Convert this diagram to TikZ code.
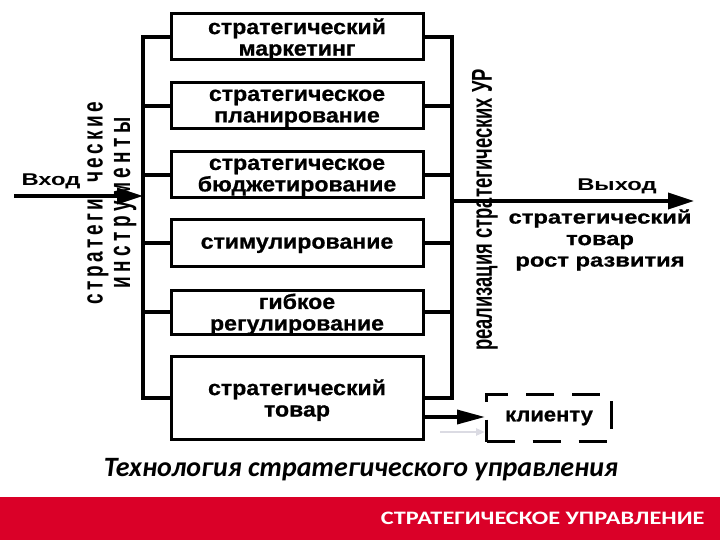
\documentclass[tikz,border=0pt]{standalone}
\usepackage{fontspec}
\setmainfont{Liberation Sans}
\newfontfamily\boxfont[FakeStretch=1.1, FakeBold=0.8]{Liberation Sans}
\newfontfamily\wideFont[FakeStretch=1.4]{Liberation Sans}
\newfontfamily\narrowFont[FakeStretch=0.8]{Liberation Sans}
\newfontfamily\capFont{Carlito}
\newfontfamily\barFont[FakeStretch=1.28]{Carlito}
\usetikzlibrary{arrows.meta,positioning}
\definecolor{barred}{RGB}{218,0,40}
\tikzset{
	block/.style={draw, line width=3pt, minimum width=252pt, align=center, inner sep=0pt, text depth=0pt,
		font=\boxfont\bfseries\fontsize{21}{21.5}\selectfont},
	bus/.style={line width=3.5pt, line cap=rect},
	bigarrow/.style={line width=3.5pt, -{Triangle[length=26pt,width=16pt]}},
}
\begin{document}
\begin{tikzpicture}[x=1pt, y=-1pt]
	\useasboundingbox (0,0) rectangle (720,540);
	% blocks
	\node[block, minimum height=46pt] (b1) at (297,37) {стратегический\\маркетинг};
	\node[block, minimum height=46pt] (b2) at (297,106) {стратегическое\\планирование};
	\node[block, minimum height=46pt] (b3) at (297,175) {стратегическое\\бюджетирование};
	\node[block, minimum height=46pt] (b4) at (297,243) {стимулирование};
	\node[block, minimum height=44pt] (b5) at (297,312) {гибкое\\регулирование};
	\node[block, minimum height=83pt] (b6) at (297,398) {стратегический\\товар};
	% buses
	\coordinate (lt) at (143,37);
	\coordinate (lb) at (143,398);
	\coordinate (rt) at (452,37);
	\coordinate (rb) at (452,398);
	\draw[bus] (lt) -- (lb);
	\draw[bus] (rt) -- (rb);
	\foreach \i in {1,...,6} {
		\draw[bus] (b\i.west) -- (b\i.west -| lt);
		\draw[bus] (b\i.east) -- (b\i.east -| rt);
	}
	% input and output
	\coordinate (inS) at (14,196);
	\coordinate (outE) at (694,201);
	\draw[bigarrow] (inS) -- (inS -| lt);
	\draw[bigarrow] (rt |- outE) -- (outE);
	\node[font=\wideFont\bfseries\fontsize{17}{19}\selectfont] (vhod) at (51,181) {Вход};
	\node[font=\wideFont\bfseries\fontsize{17}{19}\selectfont] (vyhod) at (617,186) {Выход};
	\node[align=center, font=\boxfont\bfseries\fontsize{19}{21.5}\selectfont\addfontfeatures{FakeStretch=1.25}] (result) at (600,240)
		{стратегический\\товар\\рост развития};
	% vertical labels
	\node[rotate=90, font=\bfseries\fontsize{19}{21}\selectfont\addfontfeatures{LetterSpace=18}] (strat) at (98,203)
		{\scalebox{1}[1.5]{стратеги\hspace{16pt}ческие}};
	\node[rotate=90, font=\bfseries\fontsize{19}{21}\selectfont\addfontfeatures{LetterSpace=24}] (instr) at (125,203)
		{\scalebox{1}[1.6]{инструменты}};
	\node[rotate=90, font=\narrowFont\bfseries\fontsize{23}{25}\selectfont] (real) at (485,210)
		{\scalebox{1}[1.25]{реализация стратегических УР}};
	% client
	\node[draw, line width=3pt, dash pattern=on 28pt off 18pt, minimum width=125pt, minimum height=47pt,
		font=\boxfont\bfseries\fontsize{20}{22}\selectfont] (client) at (549,418) {клиенту};
	\draw[bigarrow, -{Triangle[length=28pt,width=14pt]}] ([yshift=-19pt]b6.east) -- ([yshift=-19pt]b6.east -| client.west);
	\coordinate (faint) at (440,432);
	\draw[blue!12!gray!25, line width=2.5pt, -{Triangle[length=9pt,width=7pt]}] (faint) -- (faint -| client.west);
	% caption and footer
	\node[font=\capFont\bfseries\itshape\fontsize{28}{30}\selectfont] (caption) at (361,470)
		{Технология стратегического управления};
	\fill[barred] (0,497) rectangle (720,540);
	\node[anchor=east, text=white, font=\barFont\bfseries\fontsize{19}{21}\selectfont] (footer) at (708,518)
		{СТРАТЕГИЧЕСКОЕ УПРАВЛЕНИЕ};
\end{tikzpicture}
\end{document}
